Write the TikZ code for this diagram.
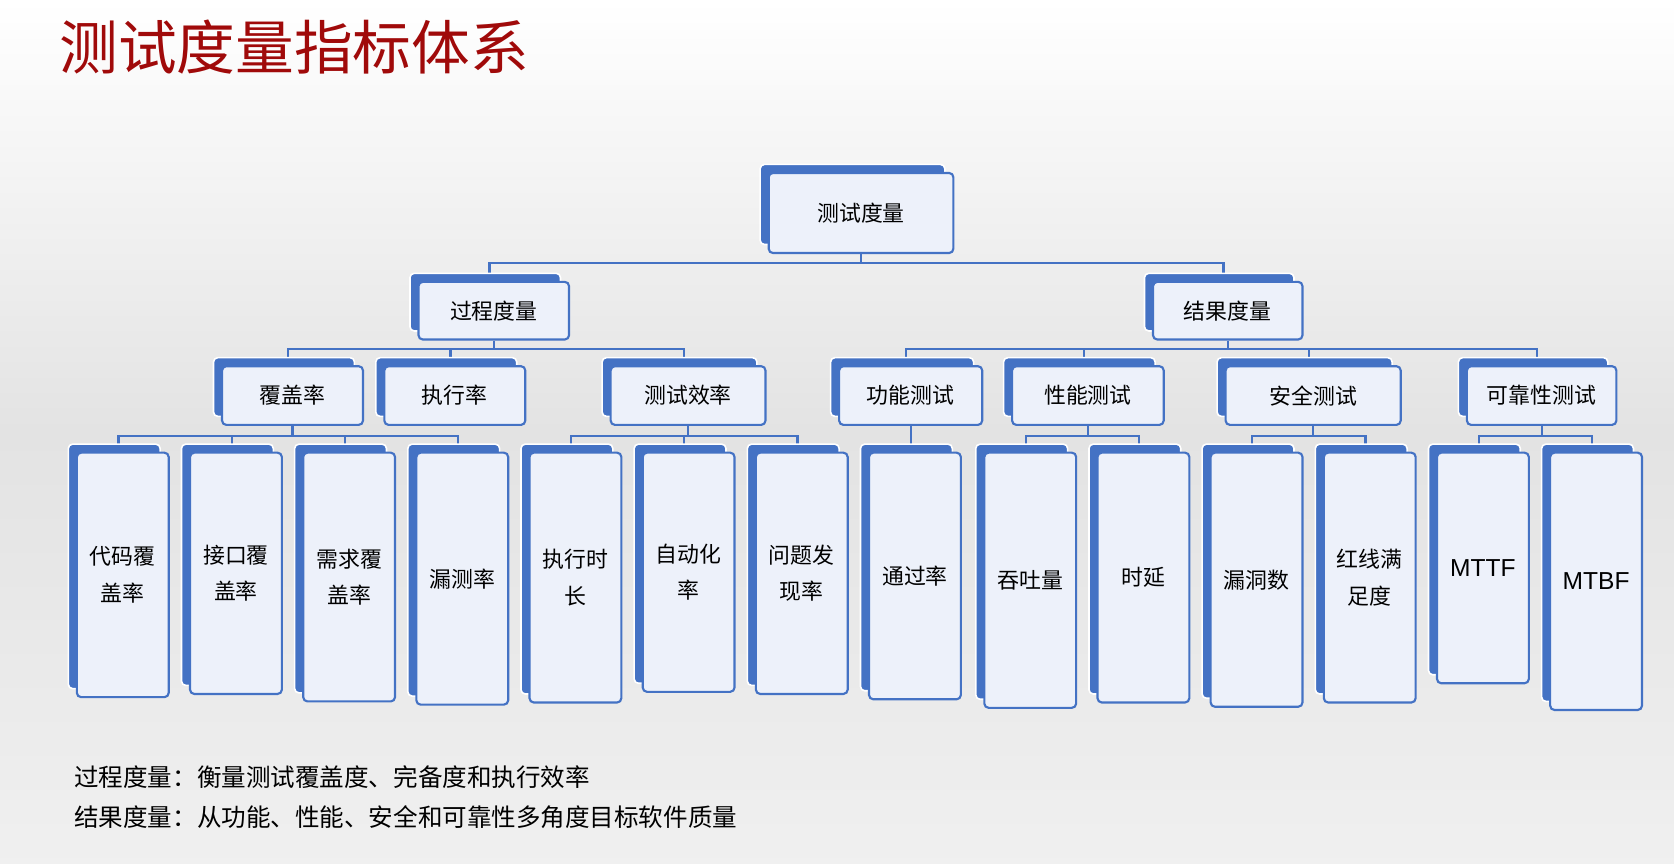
\documentclass[tikz,border=0pt]{standalone}
\usepackage{fontspec}
\setmainfont{Noto Sans CJK SC}
\newfontfamily\latinf{Liberation Sans}
\usetikzlibrary{calc}
\pgfdeclarelayer{bgfill}\pgfdeclarelayer{bg}
\pgfsetlayers{bgfill,bg,main}
\definecolor{bl}{RGB}{68,114,196}
\definecolor{fr}{RGB}{237,241,250}
\definecolor{tred}{RGB}{160,10,10}
\tikzset{
 front/.style={draw=bl,line width=2pt,fill=fr,rounded corners=4pt,align=center,font=\fontsize{20.5}{34}\selectfont,inner sep=0pt},
 back/.style={fill=bl,draw=white,line width=1.5pt,rounded corners=4pt},
 conn/.style={draw=bl,line width=2pt},
 note/.style={anchor=west,font=\fontsize{23}{28}\selectfont}
}
% name, x1, y1, x2, y2, text
\newcommand\mybox[6]{%
 \fill[back] (#2-8,#3-8) rectangle (#4-8,#5-8);
 \node[front,minimum width=#4-#2,minimum height=#5-#3] (#1) at ({(#2+#4)/2},{(#3+#5)/2}) {#6};
 \coordinate (#1t) at ({(#2+#4)/2-4},#3-8);
}
\begin{document}
\begin{tikzpicture}[x=1pt,y=-1pt]
\begin{pgfonlayer}{bgfill}
\shade[top color=white,bottom color=gray!12,middle color=gray!22] (0,0) rectangle (1568,809);
\end{pgfonlayer}
\useasboundingbox (0,0) rectangle (1568,809);
\node[anchor=west,text=tred,font=\fontsize{55}{60}\selectfont] (title) at (52,44) {测试度量指标体系};
\mybox{top}{720}{162}{893}{237}{测试度量}
\mybox{p}{392}{264}{533}{318}{过程度量}
\mybox{r}{1080}{264}{1220}{318}{结果度量}
\mybox{a}{208}{343}{340}{398}{覆盖率}
\mybox{b}{360}{343}{492}{398}{执行率}
\mybox{c}{572}{343}{717}{398}{测试效率}
\mybox{d}{786}{343}{920}{398}{功能测试}
\mybox{e}{948}{343}{1090}{398}{性能测试}
\mybox{f}{1148}{343}{1312}{398}{安全测试}
\mybox{g}{1374}{343}{1514}{398}{可靠性测试}
\mybox{l1}{72}{424}{158}{653}{代码覆\\盖率}
\mybox{l2}{178}{424}{264}{650}{接口覆\\盖率}
\mybox{l3}{284}{424}{370}{657}{需求覆\\盖率}
\mybox{l4}{390}{424}{476}{660}{漏测率}
\mybox{l5}{496}{424}{582}{658}{执行时\\长}
\mybox{l6}{602}{424}{688}{648}{自动化\\率}
\mybox{l7}{708}{424}{794}{650}{问题发\\现率}
\mybox{l8}{814}{424}{900}{655}{通过率}
\mybox{l9}{922}{424}{1008}{663}{吞吐量}
\mybox{l10}{1028}{424}{1114}{658}{时延}
\mybox{l11}{1134}{424}{1220}{662}{漏洞数}
\mybox{l12}{1240}{424}{1326}{658}{红线满\\足度}
\mybox{l13}{1346}{424}{1432}{640}{{\latinf\fontsize{23}{28}\selectfont MTTF}}
\mybox{l14}{1452}{424}{1538}{665}{{\latinf\fontsize{23}{28}\selectfont MTBF}}
\begin{pgfonlayer}{bg}
\draw[conn] (top.south) -- ++(0,8) coordinate (t1);
\draw[conn] (pt) |- (t1) -| (rt);
\draw[conn] (p.south) -- ++(0,8) coordinate (p1);
\draw[conn] (at) |- (p1) -| (ct);
\draw[conn] (bt) -- (bt|-p1);
\draw[conn] (r.south) -- ++(0,8) coordinate (r1);
\draw[conn] (dt) |- (r1) -| (gt);
\draw[conn] (et) -- (et|-r1);
\draw[conn] (ft) -- (ft|-r1);
\draw[conn] (a.south) -- ++(0,9) coordinate (a1);
\draw[conn] (l1t) |- (a1) -| (l4t);
\draw[conn] (l2t) -- (l2t|-a1);
\draw[conn] (l3t) -- (l3t|-a1);
\draw[conn] (c.south) -- ++(0,9) coordinate (c1);
\draw[conn] (l5t) |- (c1) -| (l7t);
\draw[conn] (l6t) -- (l6t|-c1);
\draw[conn] (d.south) -- (l8t);
\draw[conn] (e.south) -- ++(0,9) coordinate (e1);
\draw[conn] (l9t) |- (e1) -| (l10t);
\draw[conn] (f.south) -- ++(0,9) coordinate (f1);
\draw[conn] (l11t) |- (f1) -| (l12t);
\draw[conn] (g.south) -- ++(0,9) coordinate (g1);
\draw[conn] (l13t) |- (g1) -| (l14t);
\end{pgfonlayer}
\node[note] (n1) at (66,728) {过程度量：衡量测试覆盖度、完备度和执行效率};
\node[note] (n2) at (66,765) {结果度量：从功能、性能、安全和可靠性多角度目标软件质量};
\end{tikzpicture}
\end{document}
